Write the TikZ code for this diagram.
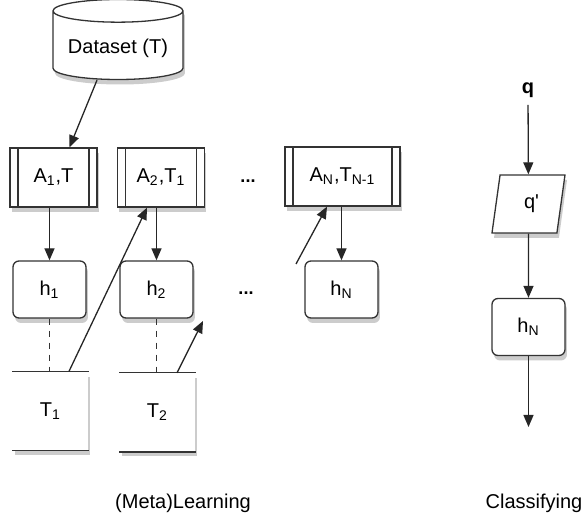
\documentclass[tikz,border=0pt]{standalone}
\usepackage{fontspec}
\setmainfont{Liberation Sans}
\usetikzlibrary{arrows.meta,positioning,shapes.geometric,shadows}

\begin{document}
\begin{tikzpicture}[
      x=0.5pt,
      y=-0.5pt,
      line width=0.65pt,
      myshadow/.style={
         drop shadow={opacity=0.4,shadow xshift=1pt,shadow yshift=-2.5pt}},
      mycyl/.style={
         cylinder,
         shape border rotate=90,
         aspect=0.2,
         draw=black!80,
         fill=white,
         myshadow,
         minimum width=65pt,
         minimum height=40pt},
      myproc/.style={
         rectangle,
         draw=black!80,
         fill=white,
         myshadow,
         inner sep=2pt,
         minimum width=43.5pt,
         minimum height=29.5pt,
         path picture={
            \draw[black!80] ([xshift=4pt]path picture bounding box.north west)
               -- ([xshift=4pt]path picture bounding box.south west);
            \draw[black!80] ([xshift=-4pt]path picture bounding box.north east)
               -- ([xshift=-4pt]path picture bounding box.south east);}},
      mybox/.style={
         rectangle,
         rounded corners=3pt,
         draw=black!80,
         fill=white,
         myshadow,
         minimum width=36.5pt,
         minimum height=28.5pt},
      mystore/.style={
         rectangle,
         fill=white,
         myshadow,
         minimum width=37.5pt,
         minimum height=39pt},
      mypara/.style={
         trapezium,
         trapezium left angle=75.5,
         trapezium right angle=104.5,
         trapezium stretches body,
         draw=black!80,
         fill=white,
         myshadow,
         minimum width=36.5pt,
         minimum height=29pt},
      mydots/.style={font=\bfseries\small},
      mytext/.style={font=\normalsize},
      myarrow/.style={-{Triangle[length=6pt,width=5pt]},draw=black!85}
      ]
      \useasboundingbox (0,0) rectangle (586,517);
      % meta learning
      \node[mycyl] (ds) at (118,48) {Dataset (T)};
      \node[myproc] (a1) at (53.5,177.5) {A\textsubscript{1},T};
      \node[myproc] (a2) at (161,177.5) {A\textsubscript{2},T\textsubscript{1}};
      \node[myproc,minimum width=57.5pt] (an) at (342.5,176.5) {A\textsubscript{N},T\textsubscript{N-1}};
      \node[mydots] (d1) at (248,181) {...};
      \node[mybox] (h1) at (49.5,289.5) {h\textsubscript{1}};
      \node[mybox] (h2) at (156.5,289.5) {h\textsubscript{2}};
      \node[mybox] (hn) at (341.5,289.5) {h\textsubscript{N}};
      \node[mydots] (d2) at (246,293) {...};
      \node[mystore] (t1) at (50.5,411) {T\textsubscript{1}};
      \node[mystore] (t2) at (157.5,412.5) {T\textsubscript{2}};
      \coordinate (e2) at (203,321);
      \coordinate (sn) at (296,264);
      % classifying
      \node[font=\bfseries] (q) at (528,90) {q};
      \node[mypara] (qp) at (528.5,204) {\hspace*{3pt}q\textquotesingle};
      \node[mybox] (hq) at (528.5,327) {h\textsubscript{N}};
      \coordinate (out) at (528.5,427);
      \node[mytext] (l1) at (183,503) {(Meta)Learning};
      \node[mytext] (l2) at (534,503) {Classifying};
    \foreach \t in {t1,t2}
      \draw[black!80] (\t.north west) -- (\t.north east) (\t.south west) -- (\t.south east);
    \foreach \i/\j in {a1/h1,a2/h2,an/hn}
      \draw[myarrow] (\i.south -| \j.north) -- (\j.north);
    \foreach \i/\j in {h1/t1,h2/t2}
      \draw[black!80,dashed] (\i.south) -- (\j.north -| \i.south);
    \draw[myarrow] ([xshift=-10.5pt]ds.south) -- ([xshift=8pt]a1.north);
    \draw[myarrow] ([xshift=9.25pt]t1.north) -- ([xshift=-7pt]a2.south);
    \draw[myarrow] ([xshift=9.75pt]t2.north) -- (e2);
    \draw[myarrow] (sn) -- ([xshift=-7.75pt]an.south);
    \foreach \i/\j in {q/qp,qp/hq,hq/out}
      \draw[myarrow] (\i) -- (\j);
\end{tikzpicture}
\end{document}
